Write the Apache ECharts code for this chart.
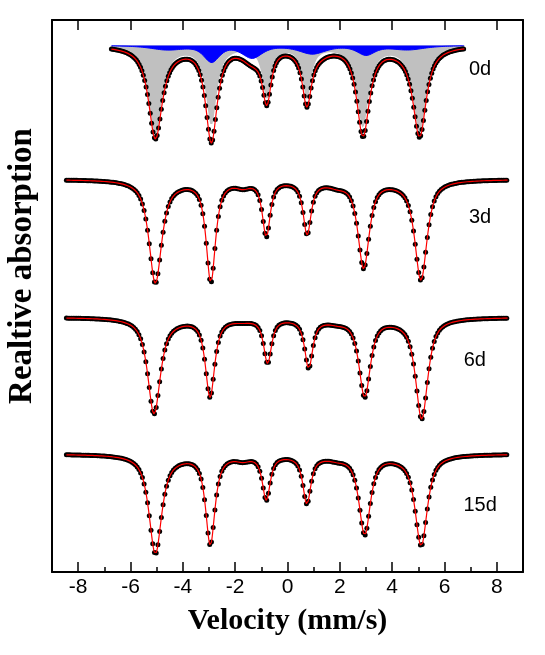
<!DOCTYPE html>
<html>
<head>
<meta charset="utf-8">
<script src="https://cdn.jsdelivr.net/npm/echarts@6.0.0/dist/echarts.min.js"></script>
<style>
html, body { margin: 0; padding: 0; background: #fff; }
#chart { width: 545px; height: 655px; }
</style>
</head>
<body>
<div id="chart"></div>
<script>
// spectra from top to bottom
const sampleNames = ['0d', '3d', '6d', '15d']
// baseline of each spectrum (offset units, stacked)
const baselines = [526.5, 392.7, 254.7, 118]
// recorded velocity range and channel step (mm/s)
const velStart = [-6.73, -8.45, -8.45, -8.45]
const velEnd = [6.77, 8.42, 8.42, 8.42]
const velStep = [0.053, 0.066, 0.066, 0.066]

// main sextet: line positions, depths, widths
const sextetPos = [
  [-5.05, -2.91, -0.79, 0.74, 2.88, 5.05],
  [-5.05, -2.93, -0.81, 0.75, 2.91, 5.10],
  [-5.10, -2.96, -0.76, 0.81, 2.95, 5.13],
  [-5.05, -2.95, -0.81, 0.74, 2.95, 5.11]
]
const sextetDepth = [
  [89, 78, 52, 51, 80, 87],
  [102, 98, 55, 51, 87, 99],
  [95, 76, 44, 47, 78, 100],
  [98, 86, 44, 46, 79, 90]
]
const sextetWidth = [
  [0.62, 0.50, 0.40, 0.40, 0.55, 0.60],
  [0.58, 0.42, 0.36, 0.36, 0.52, 0.56],
  [0.58, 0.42, 0.36, 0.36, 0.52, 0.56],
  [0.58, 0.42, 0.36, 0.36, 0.52, 0.56]
]
// lorentzian share of the line shape
const lorentzShare = [0.9, 0.8, 0.8, 0.8]

// minor (broad) component, drawn blue for 0d
const minorPos = [
  [-4.6, -2.9, -1.35, 0.95, 3.0, 4.6],
  [-4.4, -2.9, -1.7, 0.9, 1.9, 4.4],
  [-4.4, -2.9, -1.7, 0.9, 1.9, 4.4],
  [-4.4, -2.9, -1.7, 0.9, 1.9, 4.4]
]
const minorDepth = [
  [4, 16, 12, 8, 9, 4],
  [2, 3, 5, 2, 4, 2],
  [2, 2, 2, 2, 3, 2],
  [2, 3, 4, 2, 3, 2]
]
const minorWidth = [
  [1.5, 0.7, 0.9, 1.2, 0.8, 1.5],
  [1.2, 0.8, 0.6, 1.0, 0.8, 1.2],
  [1.2, 0.8, 0.8, 1.0, 0.8, 1.2],
  [1.2, 0.8, 0.6, 1.0, 0.8, 1.2]
]

// text labels next to each spectrum
const labelVel = [7.36, 7.36, 7.16, 7.36]
const labelLevel = [502.5, 354.5, 212, 67]

const majorTicks = [-8, -6, -4, -2, 0, 2, 4, 6, 8]
const minorTicks = [-7, -5, -3, -1, 1, 3, 5, 7]

function lineShape(d, w, eta) {
  const x = 2 * d / w
  return eta / (1 + x * x) + (1 - eta) * Math.exp(-Math.LN2 * x * x)
}

function mainAbs(i, v) {
  let s = 0
  for (let k = 0; k < 6; k++) {
    s += sextetDepth[i][k] * lineShape(v - sextetPos[i][k], sextetWidth[i][k], lorentzShare[i])
  }
  return s
}

function minorAbs(i, v) {
  let s = 0
  for (let k = 0; k < 6; k++) {
    s += minorDepth[i][k] * lineShape(v - minorPos[i][k], minorWidth[i][k], 0.6)
  }
  return s
}

function velocities(a, b, step) {
  let arr = []
  for (let v = a; v <= b + 1e-9; v += step) arr.push(+v.toFixed(4))
  return arr
}

const chart = echarts.init(document.getElementById('chart'))
let series = []

// 0d sub-spectra (filled)
let vel0 = velocities(velStart[0], velEnd[0], 0.02)
series.push({
  type: 'line',
  data: vel0.map(v => [v, baselines[0] - mainAbs(0, v)]),
  symbol: 'none',
  lineStyle: { width: 0 },
  areaStyle: { color: '#c0c0c0', opacity: 1, origin: baselines[0] },
  z: 1
})
series.push({
  type: 'line',
  data: vel0.map(v => [v, baselines[0] - minorAbs(0, v)]),
  symbol: 'none',
  lineStyle: { width: 1, color: '#0000ff' },
  areaStyle: { color: '#0000ff', opacity: 1, origin: baselines[0] },
  z: 2
})

for (let i = 0; i < sampleNames.length; i++) {
  let chans = velocities(velStart[i], velEnd[i], velStep[i])
  series.push({
    type: 'scatter',
    data: chans.map(v => [v, baselines[i] - mainAbs(i, v) - minorAbs(i, v)]),
    symbolSize: 5,
    itemStyle: { color: '#000', opacity: 1 },
    z: 3
  })
  let fine = velocities(velStart[i], velEnd[i], 0.01)
  series.push({
    type: 'line',
    data: fine.map(v => [v, baselines[i] - mainAbs(i, v) - minorAbs(i, v)]),
    symbol: 'none',
    lineStyle: { width: 1.2, color: '#ff0000' },
    z: 4
  })
}

series.push({
  type: 'scatter',
  symbolSize: 0,
  data: sampleNames.map((n, i) => ({ name: n, value: [labelVel[i], labelLevel[i]] })),
  label: {
    show: true,
    position: 'inside',
    formatter: p => p.name,
    fontFamily: 'Liberation Sans',
    fontSize: 20,
    color: '#000000',
    opacity: 1,
    textBorderWidth: 0
  },
  z: 5
})

const option = {
  animation: false,
  backgroundColor: '#fff',
  grid: { left: 52, right: 22, top: 20, bottom: 83 },
  xAxis: [
    {
      type: 'value', min: -9, max: 9, position: 'bottom',
      axisLine: { onZero: false, lineStyle: { color: '#000', width: 2 } },
      axisTick: { inside: true, length: 10, customValues: majorTicks, lineStyle: { color: '#000', width: 1.5 } },
      axisLabel: { customValues: majorTicks, fontFamily: 'Liberation Sans', fontSize: 21, color: '#000', margin: 5 },
      splitLine: { show: false },
      name: 'Velocity (mm/s)', nameLocation: 'middle', nameGap: 34,
      nameTextStyle: { fontFamily: 'Liberation Serif', fontWeight: 'bold', fontSize: 30, color: '#000' }
    },
    {
      type: 'value', min: -9, max: 9, position: 'bottom', offset: 0,
      axisLine: { show: false, onZero: false },
      axisTick: { inside: true, length: 5, customValues: minorTicks, lineStyle: { color: '#000', width: 1.5 } },
      axisLabel: { show: false },
      splitLine: { show: false }
    },
    {
      type: 'value', min: -9, max: 9, position: 'top',
      axisLine: { onZero: false, lineStyle: { color: '#000', width: 2 } },
      axisTick: { inside: true, length: 10, customValues: majorTicks, lineStyle: { color: '#000', width: 1.5 } },
      axisLabel: { show: false },
      splitLine: { show: false }
    }
  ],
  yAxis: [
    {
      type: 'value', min: 0, max: 552, position: 'left',
      axisLine: { show: true, onZero: false, lineStyle: { color: '#000', width: 2 } },
      axisTick: { show: false }, axisLabel: { show: false }, splitLine: { show: false }
    },
    {
      type: 'value', min: 0, max: 552, position: 'right',
      axisLine: { show: true, onZero: false, lineStyle: { color: '#000', width: 2 } },
      axisTick: { show: false }, axisLabel: { show: false }, splitLine: { show: false }
    }
  ],
  graphic: [{
    type: 'text',
    x: 22, y: 266,
    rotation: Math.PI / 2,
    style: {
      text: 'Realtive absorption',
      font: 'bold 33px "Liberation Serif"',
      fill: '#000',
      align: 'center',
      verticalAlign: 'middle'
    }
  }],
  series: series
}
chart.setOption(option)
</script>
</body>
</html>
